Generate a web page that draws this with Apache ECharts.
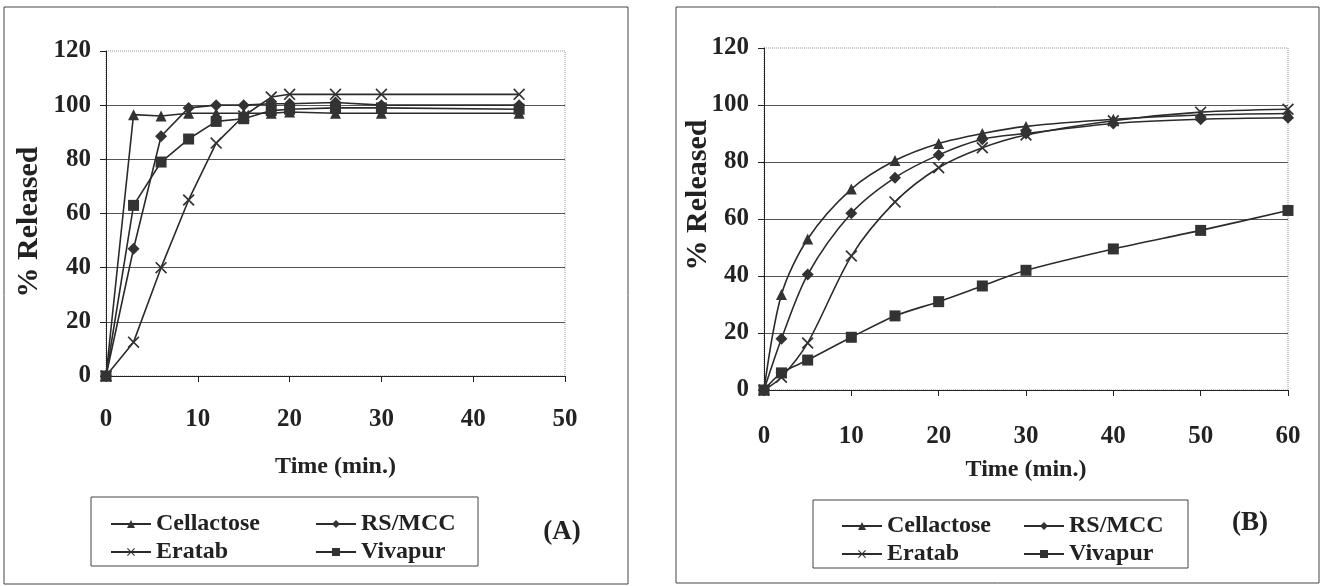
<!DOCTYPE html>
<html>
<head>
<meta charset="utf-8">
<script src="https://cdn.jsdelivr.net/npm/echarts@6/dist/echarts.min.js"></script>
<style>
  html, body { margin: 0; padding: 0; background: #fff; }
  #chart { width: 1326px; height: 586px; }
</style>
</head>
<body>
<div id="chart"></div>
<script>
// --- données --- //
const timeA = [0, 3, 6, 9, 12, 15, 18, 20, 25, 30, 45];
const cellactoseA = [0, 96.5, 96, 97, 97, 97, 97, 97.5, 97, 97, 97];
const rsmccA = [0, 47, 88.5, 99, 100, 100, 100.5, 100.5, 101, 100, 100];
const eratabA = [0, 12.5, 40, 65, 86, 96, 103, 104, 104, 104, 104];
const vivapurA = [0, 63, 79, 87.5, 94, 95, 98, 98.5, 99, 99, 98.5];

const timeB = [0, 2, 5, 10, 15, 20, 25, 30, 40, 50, 60];
const cellactoseB = [0, 33.5, 53, 70.5, 80.5, 86.5, 90, 92.5, 95, 96.5, 97];
const rsmccB = [0, 18, 40.5, 62, 74.5, 82.5, 88, 90, 93.5, 95, 95.5];
const eratabB = [0, 4.5, 16.5, 47, 66, 78, 85, 89.5, 94.5, 97.5, 98.5];
const vivapurB = [0, 6, 10.5, 18.5, 26, 31, 36.5, 42, 49.5, 56, 63];

const yTicks = [0, 20, 40, 60, 80, 100, 120];

const FONT = 'Liberation Serif';
const INK = '#2b2b2b';
const crossPath = 'path://M0,1L1,0L5,4L9,0L10,1L6,5L10,9L9,10L5,6L1,10L0,9L4,5Z';

const markers = {
  Cellactose: { symbol: 'triangle', size: 11 },
  'RS/MCC': { symbol: 'diamond', size: 12 },
  Eratab: { symbol: crossPath, size: 12 },
  Vivapur: { symbol: 'rect', size: 11 }
};

function pairs(xs, ys) {
  return xs.map((x, i) => [x, ys[i]]);
}

function makeSeries(name, xs, ys, idx, smooth) {
  return {
    name: name,
    type: 'line',
    xAxisIndex: idx,
    yAxisIndex: idx,
    data: pairs(xs, ys),
    smooth: smooth,
    symbol: markers[name].symbol,
    symbolSize: markers[name].size,
    showAllSymbol: true,
    lineStyle: { color: INK, width: 1.6 },
    itemStyle: { color: '#333' },
    emphasis: { disabled: true },
    animation: false
  };
}

function xAxisOf(idx, max, nameGap, labelMargin) {
  return {
    type: 'value', gridIndex: idx, min: 0, max: max, interval: 10,
    name: 'Time (min.)', nameLocation: 'middle', nameGap: nameGap,
    nameTextStyle: { fontFamily: FONT, fontWeight: 'bold', fontSize: 24, color: '#222' },
    axisLine: { lineStyle: { color: '#222', width: 1 } },
    axisTick: { length: 6, lineStyle: { color: '#222' } },
    axisLabel: { margin: labelMargin, fontFamily: FONT, fontWeight: 'bold', fontSize: 25, color: '#222' },
    splitLine: { show: false }
  };
}

function yAxisOf(idx) {
  return {
    type: 'value', gridIndex: idx, min: yTicks[0], max: yTicks[yTicks.length - 1], interval: 20,
    axisLine: { show: true, lineStyle: { color: '#222', width: 1 } },
    axisTick: { show: true, length: 6, lineStyle: { color: '#222' } },
    axisLabel: { margin: 15, fontFamily: FONT, fontWeight: 'bold', fontSize: 25, color: '#222' },
    splitLine: { show: true, showMaxLine: false, lineStyle: { color: '#555', width: 1 } }
  };
}

function legendOf(left, top, names) {
  return {
    left: left, top: top, orient: 'vertical',
    itemWidth: 40, itemHeight: 10, itemGap: 4,
    data: names,
    textStyle: { fontFamily: FONT, fontWeight: 'bold', fontSize: 24, color: '#222' },
    selectedMode: false
  };
}

function box(x, y, w, h) {
  return { type: 'rect', shape: { x: x, y: y, width: w, height: h }, style: { fill: 'none', stroke: '#444', lineWidth: 1 }, silent: true };
}

function label(x, y, text, size, rotate) {
  return {
    type: 'text', x: x, y: y, rotation: rotate ? Math.PI / 2 : 0,
    style: { text: text, fontFamily: FONT, fontWeight: 'bold', fontSize: size, fill: '#222', align: 'center', verticalAlign: 'middle' },
    silent: true
  };
}

const option = {
  backgroundColor: '#fff',
  animation: false,
  grid: [
    { left: 106, top: 51, width: 459, height: 325, show: true, borderColor: '#999', borderWidth: 1, borderType: 'dotted' },
    { left: 764, top: 48, width: 524, height: 342, show: true, borderColor: '#999', borderWidth: 1, borderType: 'dotted' }
  ],
  xAxis: [xAxisOf(0, 50, 79, 31), xAxisOf(1, 60, 68, 34)],
  yAxis: [yAxisOf(0), yAxisOf(1)],
  legend: [
    legendOf(105, 507, ['Cellactose', 'Eratab']),
    legendOf(310, 507, ['RS/MCC', 'Vivapur']),
    legendOf(836, 509, ['Cellactose', 'Eratab']),
    legendOf(1018, 509, ['RS/MCC', 'Vivapur'])
  ],
  graphic: [
    box(4, 7, 624, 577),
    box(676, 7, 643, 576),
    box(91, 497, 387, 69),
    box(813, 500, 375, 68),
    label(29, 222, '% Released', 30, true),
    label(698, 195, '% Released', 30, true),
    label(562, 532, '(A)', 27, false),
    label(1250, 523, '(B)', 27, false)
  ],
  series: [
    makeSeries('Cellactose', timeA, cellactoseA, 0, false),
    makeSeries('RS/MCC', timeA, rsmccA, 0, false),
    makeSeries('Eratab', timeA, eratabA, 0, false),
    makeSeries('Vivapur', timeA, vivapurA, 0, false),
    makeSeries('Cellactose', timeB, cellactoseB, 1, 0.3),
    makeSeries('RS/MCC', timeB, rsmccB, 1, 0.3),
    makeSeries('Eratab', timeB, eratabB, 1, 0.3),
    makeSeries('Vivapur', timeB, vivapurB, 1, 0.3)
  ]
};

const chart = echarts.init(document.getElementById('chart'));
chart.setOption(option);
</script>
</body>
</html>
